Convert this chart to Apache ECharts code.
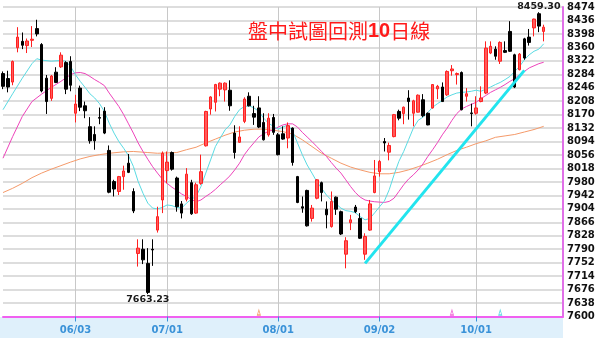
<!DOCTYPE html>
<html><head><meta charset="utf-8">
<script src="https://cdn.jsdelivr.net/npm/echarts@6.0.0/dist/echarts.min.js"></script>
<style>html,body{margin:0;padding:0;background:#fff}#c{width:600px;height:338px}</style>
</head><body><div id="c"></div>
<script>
const dates = ['05/13','05/14','05/15','05/16','05/17','05/20','05/21','05/22','05/23','05/24','05/27','05/28','05/29','05/30','05/31',
'06/03','06/04','06/05','06/06','06/07','06/10','06/11','06/13','06/14','06/17','06/18','06/19','06/20','06/21','06/24','06/25','06/26','06/27','06/28',
'07/01','07/02','07/03','07/04','07/05','07/08','07/09','07/10','07/11','07/12','07/15','07/16','07/17','07/18','07/19','07/22','07/23','07/24','07/25','07/26','07/29','07/30','07/31',
'08/01','08/02','08/05','08/06','08/07','08/08','08/09','08/12','08/13','08/14','08/15','08/16','08/19','08/20','08/22','08/23','08/26','08/27','08/28','08/29','08/30',
'09/02','09/03','09/04','09/05','09/06','09/09','09/10','09/11','09/12','09/13','09/14','09/16','09/17','09/18','09/23','09/24','09/25','09/26','09/27','09/30',
'10/01','10/02','10/03','10/04','10/07','10/08','10/09','10/11','10/14','10/15','10/16','10/17','10/18','10/21','10/22',
'10/23','10/24','10/25','10/28'];
const opens = [8286,8272,8262,8359,8377,8365,8380,8413,8368,8273,8216,8290,8305,8317,8320,8174,8245,8195,8136,8114,
8162,8180,8069,7981,7953,7995,8033,7953,7778,7790,7750,7790,7844,7929,8012,8063,7991,7918,7931,7978,
7892,7976,8082,8186,8205,8242,8240,8239,8118,8092,8151,8222,8173,8189,8148,8113,8162,8113,8116,8104,
8132,7995,7910,7956,7877,7934,7978,7903,7854,7937,7896,7776,7865,7909,7877,7776,7844,7950,8009,8094,
8064,8108,8179,8173,8217,8174,8177,8212,8174,8189,8243,8248,8226,8294,8283,8289,8222,8175,8174,8207,
8231,8344,8355,8321,8351,8405,8339,8297,8384,8389,8415,8455,8405];
const closes = [8250,8248,8320,8389,8366,8378,8383,8398,8237,8207,8279,8261,8338,8242,8253,8200,8191,8181,8096,8096,
8160,8118,7951,7960,7995,8011,8007,7898,7793,7760,7668,7788,7882,8061,8036,8016,7910,7892,8002,7890,
7972,8009,8179,8220,8255,8259,8259,8195,8063,8107,8214,8195,8163,8135,8099,8160,8120,8057,8101,8139,
8035,7922,7906,7856,7906,7986,7950,7887,7925,7903,7833,7814,7873,7896,7821,7826,7918,7997,8038,8090,
8083,8170,8160,8191,8207,8209,8225,8167,8141,8255,8250,8207,8292,8299,8286,8184,8229,8173,8189,8217,
8358,8363,8335,8374,8346,8349,8248,8341,8330,8374,8440,8420,8417];
const lows = [8242,8233,8253,8346,8355,8344,8361,8391,8233,8172,8209,8259,8302,8228,8236,8148,8180,8160,8088,8071,
8143,8115,7948,7939,7943,7958,8005,7892,7741,7748,7663.23,7743,7837,7892,7976,8012,7896,7877,7925,7887,
7890,7972,8080,8170,8179,8222,8207,8181,8046,8090,8146,8193,8141,8132,8097,8108,8113,8055,8099,8075,
8026,7920,7893,7854,7868,7931,7925,7849,7851,7887,7830,7736,7844,7892,7819,7760,7842,7948,7995,8066,
8041,8106,8154,8143,8156,8137,8176,8163,8140,8187,8214,8206,8223,8280,8255,8182,8207,8137,8170,8205,
8228,8341,8325,8313,8344,8347,8245,8295,8325,8365,8391,8403,8377];
const highs = [8292,8294,8323,8417,8402,8385,8420,8438,8372,8282,8282,8304,8346,8321,8335,8226,8252,8207,8163,8137,
8190,8191,8083,7986,7997,8026,8059,7962,7818,7818,7793,7818,7910,8066,8066,8066,7995,7926,8019,7986,
7978,8057,8181,8222,8257,8261,8261,8267,8140,8137,8219,8233,8195,8222,8174,8174,8172,8118,8137,8148,
8134,7997,7939,7958,7915,7988,7981,7925,7953,7939,7899,7824,7887,7915,7892,7835,7929,8042,8042,8104,
8091,8172,8184,8193,8239,8212,8227,8228,8176,8256,8254,8261,8295,8310,8289,8292,8245,8201,8222,8250,
8377,8377,8363,8377,8377,8434,8342,8344,8387,8412,8441,8459.30,8424];

const ma10 = [[0,8184],[2,8229],[4,8273],[6,8314],[7,8328],[8,8324],[10,8321],[12,8323],[13,8321],[14,8306],[15,8283],[16,8264],[17,8247],[18,8229],[19,8217],[20,8201],[21,8179],[22,8146],[23,8118],[24,8094],[25,8075],[26,8054],[27,8024],[28,7981],[29,7948],[30,7920],[31,7906],[32,7904],[33,7908],[34,7915],[35,7913],[36,7908],[37,7906],[38,7920],[39,7931],[40,7939],[41,7967],[42,8005],[43,8042],[44,8080],[45,8104],[46,8127],[47,8141],[48,8165],[49,8184],[50,8193],[51,8195],[52,8189],[53,8179],[54,8160],[55,8146],[56,8137],[57,8129],[58,8135],[59,8141],[60,8123],[61,8090],[62,8057],[63,8028],[64,8005],[65,7981],[66,7962],[67,7943],[68,7929],[69,7918],[70,7906],[71,7899],[72,7897],[73,7893],[74,7882],[75,7873],[76,7877],[77,7893],[78,7910],[79,7926],[80,7958],[81,8000],[82,8038],[83,8066],[84,8099],[85,8132],[86,8154],[87,8163],[88,8176],[89,8191],[90,8201],[91,8210],[92,8220],[93,8226],[94,8231],[95,8233],[96,8234],[97,8236],[98,8239],[99,8236],[100,8242],[101,8248],[102,8255],[103,8261],[104,8269],[105,8278],[106,8292],[107,8306],[108,8325],[109,8339],[110,8349],[111,8355],[112,8370]];
const ma20 = [[0,8047],[2,8108],[4,8165],[6,8207],[8,8228],[10,8247],[12,8264],[14,8283],[15,8288],[16,8289],[17,8286],[18,8278],[19,8269],[20,8261],[21,8252],[22,8231],[23,8212],[24,8193],[25,8170],[26,8144],[27,8118],[28,8090],[29,8066],[30,8044],[31,8023],[32,8005],[33,7988],[34,7976],[35,7965],[36,7956],[37,7946],[38,7939],[39,7931],[40,7924],[41,7929],[42,7939],[43,7948],[44,7959],[45,7972],[46,7984],[47,7997],[48,8014],[49,8033],[50,8057],[51,8075],[52,8091],[53,8107],[54,8116],[55,8123],[56,8127],[57,8135],[58,8141],[59,8144],[60,8144],[61,8135],[62,8120],[63,8107],[64,8094],[65,8080],[66,8066],[67,8052],[68,8035],[69,8019],[70,8005],[71,7986],[72,7967],[73,7950],[74,7937],[75,7929],[76,7926],[77,7924],[78,7923],[79,7922],[80,7925],[81,7934],[82,7953],[83,7972],[84,7988],[85,8000],[86,8014],[87,8031],[88,8052],[89,8071],[90,8091],[91,8113],[92,8132],[93,8154],[94,8173],[95,8186],[96,8193],[97,8199],[98,8205],[99,8215],[100,8224],[101,8233],[102,8240],[103,8247],[104,8255],[105,8264],[106,8272],[107,8283],[108,8292],[109,8302],[110,8308],[111,8314],[112,8318]];
const ma60 = [[0,7950],[2,7962],[4,7976],[6,7992],[8,8005],[10,8016],[12,8026],[14,8036],[16,8045],[18,8052],[20,8057],[22,8061],[25,8065],[27,8066],[30,8063],[32,8061],[34,8062],[36,8063],[38,8071],[40,8078],[42,8090],[44,8101],[46,8112],[48,8121],[50,8126],[52,8129],[54,8129],[56,8126],[58,8122],[60,8115],[62,8099],[64,8080],[66,8061],[68,8047],[70,8033],[72,8022],[74,8014],[76,8007],[78,8003],[80,8003],[82,8007],[84,8014],[86,8023],[88,8033],[90,8044],[92,8057],[94,8069],[96,8078],[98,8088],[100,8096],[102,8106],[104,8110],[106,8114],[108,8121],[110,8128],[112,8137]];
const trendLine = [[75,7750],[108,8295]];
const tickLabels = ['06/03','07/01','08/01','09/02','10/01'];
const yMin = 7600, yMax = 8474, yStep = 38;
const highNote = [111, 8459.30];
const lowNote = [30, 7663.23];
const maMarkers = [[53,7600],[93,7600],[103,7600]];
const maMarkerColors = ['#f08a50','#ee44cc','#3fd3e0'];
const noteA = '盤中試圖回測', noteB = '10', noteC = '日線';

const chart = echarts.init(document.getElementById('c'), null, {renderer:'canvas'});
const isTick = (i, v) => tickLabels.indexOf(v) >= 0;
chart.setOption({
  animation: false,
  backgroundColor: '#ffffff',
  grid: {left: 0, right: 37, top: 7, bottom: 21.5},
  graphic: [
    {type:'rect', z:-10, silent:true, shape:{x:0, y:317, width:563, height:21}, style:{fill:'#dff0fb'}},
    {type:'text', left:248, top:21, z:100, style:{
      text:'{a|' + noteA + '}{b|' + noteB + '}{a|' + noteC + '}',
      rich:{a:{fontFamily:'Noto Sans CJK TC', fontSize:20, fill:'#ff1a1a', fontWeight:'normal'},
            b:{fontFamily:'Liberation Sans', fontSize:20, fill:'#ff1a1a', fontWeight:'bold'}}}}
  ],
  xAxis: {type:'category', data:dates, boundaryGap:false,
    axisLine:{lineStyle:{color:'#f060f0', width:2}},
    axisTick:{show:true, interval:isTick, length:5, lineStyle:{color:'#3a92d8', width:1}},
    axisLabel:{interval:0, hideOverlap:false, color:'#3a92d8', fontFamily:'DejaVu Sans', fontWeight:'bold', fontSize:10, margin:9,
      formatter: v => (tickLabels.indexOf(v) >= 0 ? v : '')},
    splitLine:{show:true, interval:isTick, lineStyle:{color:'#c8c8c8', width:1}}},
  yAxis: {type:'value', position:'right', min:yMin, max:yMax, interval:yStep,
    axisLine:{show:true, lineStyle:{color:'#e070e8', width:2}},
    axisTick:{show:false},
    axisLabel:{color:'#111', fontFamily:'DejaVu Sans', fontWeight:'bold', fontSize:10, margin:4, formatter: v => String(v)},
    splitLine:{lineStyle:{color:'#dddddd', width:2}}},
  series: [
    {type:'line', data:ma60, symbol:'none', lineStyle:{color:'#f59a6a', width:1}, z:2},
    {type:'line', data:ma20, symbol:'none', lineStyle:{color:'#ee44bb', width:1}, z:2},
    {type:'line', data:ma10, symbol:'none', lineStyle:{color:'#5adbe3', width:1}, z:2},
    {type:'candlestick', barWidth:3, z:3,
      data: opens.map((o,i)=>[o, closes[i], lows[i], highs[i]]),
      itemStyle:{color:'#ff5a5a', color0:'#000000', borderColor:'#ff2020', borderColor0:'#000000', borderWidth:1},
      markPoint:{symbol:'circle', symbolSize:1, itemStyle:{color:'rgba(0,0,0,0)'},
        label:{show:true, color:'#1a1a1a', fontFamily:'DejaVu Sans', fontWeight:'bold', fontSize:9.5, formatter:p=>p.value.toFixed(2)},
        data:[{coord:highNote, value:highNote[1], label:{position:'top', distance:0}},
              {coord:lowNote, value:lowNote[1], label:{position:'bottom', distance:0}}]}},
    {type:'line', data:trendLine, symbol:'none', lineStyle:{color:'#22e4ee', width:3}, z:4},
    {type:'scatter', data:maMarkers.map((d,i)=>({value:d, itemStyle:{color:'#ffffff', borderColor:maMarkerColors[i], borderWidth:1}})),
      symbol:'triangle', symbolSize:[3,5], symbolOffset:[0,-4], z:5}
  ]
});
</script></body></html>
